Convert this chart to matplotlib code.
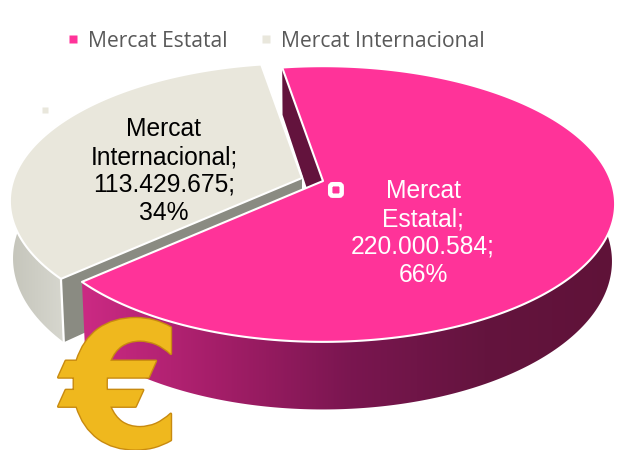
import numpy as np
import matplotlib
matplotlib.use("Agg")
import matplotlib.pyplot as plt
import matplotlib.patheffects as pe
from matplotlib.colors import LinearSegmentedColormap
from matplotlib.lines import Line2D
from matplotlib.patches import Polygon, FancyBboxPatch

categories = ["Mercat Estatal", "Mercat Internacional"]
values = [220000584, 113429675]
colors = ["#FF3399", "#E9E7DC"]

W, H = 619, 450
fig = plt.figure(figsize=(W / 100, H / 100), dpi=100)
ax = fig.add_axes([0, 0, 1, 1])

shares = np.array(values) / sum(values)
start = 99.5
split = start + 360 * shares[1]      # pink runs clockwise from start to split
TOP = dict(cy=181, rx=288, ry=134, k=0.167)
BOT = dict(cy=237, rx=285, ry=144, k=0.165)
CX = 323
EXPLODE = (-21, -3)


def proj(t, plane, off=(0, 0)):
    t = np.radians(t)
    w = 1 + plane["k"] * np.sin(t)
    x = CX + off[0] + plane["rx"] * np.cos(t) / w
    y = plane["cy"] + off[1] - plane["ry"] * np.sin(t) / w
    return x, y


def arc(a, b, plane, off=(0, 0), n=240):
    x, y = proj(np.linspace(a, b, n), plane, off)
    return np.column_stack([x, y])


def center(plane, off=(0, 0)):
    return np.array([[CX + off[0], plane["cy"] + off[1]]])


def wall(a, b, off, x0, x1, stops, z):
    """Side wall between both rims, filled with a left-to-right gradient clipped to it."""
    poly = Polygon(np.vstack([arc(a, b, TOP, off), arc(b, a, BOT, off)]), closed=True,
                   fc="none", ec="none", transform=ax.transData)
    ax.add_patch(poly)
    cmap = LinearSegmentedColormap.from_list("w", stops)
    im = ax.imshow(np.linspace(0, 1, 256)[None, :], cmap=cmap, extent=(x0, x1, 450, 0),
                   aspect="auto", zorder=z, interpolation="bilinear")
    im.set_clip_path(poly)


# inner wall of the pink slice
p0 = np.array(proj(start, TOP))
p1 = np.array(proj(start, BOT))
ax.add_patch(Polygon(np.vstack([center(TOP), p0, p1, center(BOT)]), closed=True, fc="#63133D", ec="none", zorder=1))

# grey slice: walls and top
gx, gy = proj(split, TOP, EXPLODE)
bx, by = proj(split, BOT, EXPLODE)
ax.add_patch(Polygon(np.vstack([center(TOP, EXPLODE), [gx, gy], [bx, by], center(BOT, EXPLODE)]),
                     closed=True, fc="#8A8B82", ec="none", zorder=2))
wall(split, 125, EXPLODE, 8, 68, ["#C4C4BA", "#D8D8D0"], 2)
ax.plot([gx, bx], [gy, by], color="white", lw=1.6, zorder=3)
ax.add_patch(Polygon(np.vstack([center(TOP, EXPLODE), arc(start, split, TOP, EXPLODE)]),
                     closed=True, fc=colors[1], ec="white", lw=1.5, joinstyle="round", zorder=4))

# pink slice: wall and top
wall(35, split - 360, (0, 0), 80, 620,
     ["#CC2A84", "#A51E69", "#7A1650", "#64143E", "#5F1238"], 5)
ax.add_patch(Polygon(np.vstack([center(TOP), arc(start, split - 360, TOP)]),
                     closed=True, fc=colors[0], ec="white", lw=1.5, joinstyle="round", zorder=6))

# small point markers
ax.add_patch(FancyBboxPatch((330.2, 184.2), 11.5, 11.5, boxstyle="round,pad=0,rounding_size=2.5",
                            fc=colors[0], ec="white", lw=3.2, zorder=7))
ax.plot([45], [110], "s", ms=5, color=colors[1], mec="none", zorder=7)


def label(cat, val, share):
    head = cat.split()
    amount = f"{val:,}".replace(",", ".")
    return f"{head[0]}\n{head[1]};\n{amount};\n{share * 100:.0f}%"


font = "Liberation Sans"
ax.text(423, 233, label(categories[0], values[0], shares[0]), color="white", ha="center", va="center",
        family=font, fontsize=17.7, linespacing=1.2, zorder=8)
ax.text(164, 171, label(categories[1], values[1], shares[1]), color="black", ha="center", va="center",
        family=font, fontsize=17.7, linespacing=1.2, zorder=8)

# euro symbol
ax.text(122, 447, "\u20ac", color="#EFB81E", ha="center", va="baseline", family="DejaVu Sans",
        fontsize=125, fontweight="bold", zorder=9,
        path_effects=[pe.withStroke(linewidth=2, foreground="#C88A10")])

ax.set_xlim(0, W)
ax.set_ylim(H, 0)
ax.axis("off")

handles = [Line2D([], [], marker="s", ls="none", ms=5.5, color=c, mec="none") for c in colors]
fig.legend(handles, categories, loc="upper left", bbox_to_anchor=(0.108, 0.932), ncol=2, frameon=False,
           prop={"family": "Open Sans", "size": 15.25}, labelcolor="#595959",
           handlelength=0.6, handletextpad=0.4, columnspacing=1.5, borderpad=0, borderaxespad=0)

fig.savefig("out.png", dpi=100)
